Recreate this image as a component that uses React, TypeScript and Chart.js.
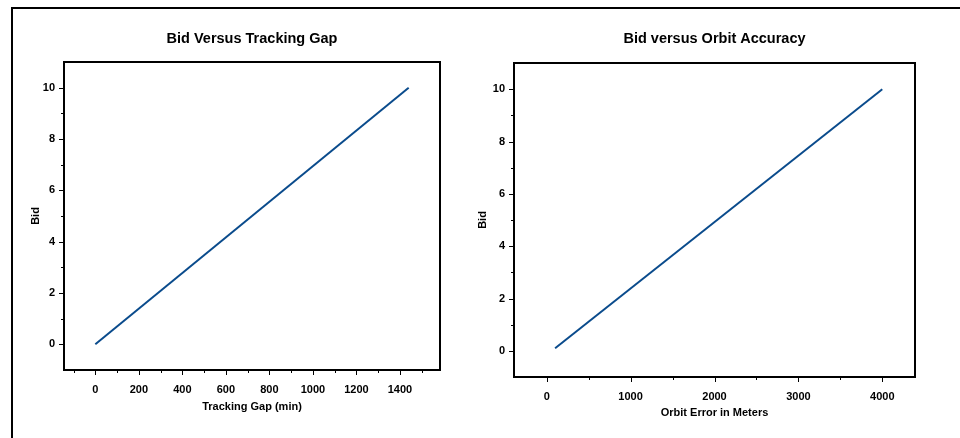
import React, { useEffect, useRef } from "react";
import { Chart, registerables } from "chart.js";

Chart.register(...registerables);

// ---- data ----
const gapMinutes = [0, 1440];
const gapBid = [0, 10];
const orbitMeters = [100, 4000];
const orbitBid = [0.1, 10];

const bidTicks = [0, 2, 4, 6, 8, 10];
const bidMinorTicks = [1, 3, 5, 7, 9];
const gapTicks = [0, 200, 400, 600, 800, 1000, 1200, 1400];
const gapMinorTicks = [-100, 100, 300, 500, 700, 900, 1100, 1300, 1500];
const orbitTicks = [0, 1000, 2000, 3000, 4000];
const orbitMinorTicks = [500, 1500, 2500, 3500];

const FONT = "'Liberation Sans', Arial, Helvetica, sans-serif";
const LINE_COLOR = "#0a4b8c";

const frameTicksPlugin = {
  id: "frameTicks",
  afterDraw(chart: any, _args: any, opts: any) {
    const { ctx, chartArea } = chart;
    const { left, top, right, bottom } = chartArea;
    const xs = chart.scales.x;
    const ys = chart.scales.y;
    ctx.save();
    ctx.strokeStyle = "#000";
    ctx.lineWidth = 1;
    ctx.beginPath();
    const xTick = (v: number, len: number) => {
      const px = Math.round(xs.getPixelForValue(v)) + 0.5;
      ctx.moveTo(px, bottom);
      ctx.lineTo(px, bottom + len);
    };
    const yTick = (v: number, len: number) => {
      const py = Math.round(ys.getPixelForValue(v)) + 0.5;
      ctx.moveTo(left, py);
      ctx.lineTo(left - len, py);
    };
    (opts.xMajor || []).forEach((v: number) => xTick(v, 5));
    (opts.xMinor || []).forEach((v: number) => xTick(v, 3));
    (opts.yMajor || []).forEach((v: number) => yTick(v, 5));
    (opts.yMinor || []).forEach((v: number) => yTick(v, 3));
    ctx.stroke();
    ctx.lineWidth = 2;
    ctx.strokeRect(left, top, right - left, bottom - top);
    ctx.restore();
  },
};

type Cfg = {
  title: string;
  xTitle: string;
  xs: number[];
  ys: number[];
  xMin: number;
  xMax: number;
  xMajor: number[];
  xMinor: number[];
  padL: number;
  padR: number;
  titleTop: number;
  titleBottom: number;
  xAxisHeight: number;
  xTitleBottom: number;
  yTitleTop: number;
};

function buildConfig(c: Cfg): any {
  return {
    type: "line",
    data: {
      datasets: [
        {
          data: c.xs.map((x, i) => ({ x, y: c.ys[i] })),
          borderColor: LINE_COLOR,
          borderWidth: 2,
          pointRadius: 0,
          fill: false,
          tension: 0,
        },
      ],
    },
    options: {
      animation: false,
      responsive: false,
      maintainAspectRatio: false,
      layout: { padding: { left: c.padL, right: c.padR, top: 0, bottom: 0 } },
      plugins: {
        legend: { display: false },
        tooltip: { enabled: false },
        title: {
          display: true,
          text: c.title,
          fullSize: false,
          color: "#000",
          font: { family: FONT, size: 14.5, weight: "bold" },
          padding: { top: c.titleTop, bottom: c.titleBottom },
        },
        frameTicks: {
          xMajor: c.xMajor,
          xMinor: c.xMinor,
          yMajor: bidTicks,
          yMinor: bidMinorTicks,
        },
      },
      scales: {
        x: {
          type: "linear",
          min: c.xMin,
          max: c.xMax,
          grid: { display: false, drawTicks: false },
          border: { display: false },
          afterBuildTicks: (s: any) => {
            s.ticks = c.xMajor.map((v) => ({ value: v }));
          },
          afterFit: (s: any) => {
            s.height = c.xAxisHeight;
          },
          ticks: {
            color: "#000",
            padding: 13,
            maxRotation: 0,
            autoSkip: false,
            font: { family: FONT, size: 11, weight: "bold" },
            callback: (v: any) => String(v),
          },
          title: {
            display: true,
            text: c.xTitle,
            color: "#000",
            font: { family: FONT, size: 11, weight: "bold" },
            padding: { top: 0, bottom: c.xTitleBottom },
          },
        },
        y: {
          type: "linear",
          min: -1,
          max: 11,
          grid: { display: false, drawTicks: false },
          border: { display: false },
          afterBuildTicks: (s: any) => {
            s.ticks = bidTicks.map((v) => ({ value: v }));
          },
          afterFit: (s: any) => {
            s.width = 44;
          },
          ticks: {
            color: "#000",
            padding: 9,
            autoSkip: false,
            font: { family: FONT, size: 11, weight: "bold" },
            callback: (v: any) => String(v),
          },
          title: {
            display: true,
            text: "Bid",
            color: "#000",
            font: { family: FONT, size: 11, weight: "bold" },
            padding: { top: c.yTitleTop, bottom: 0 },
          },
        },
      },
    },
    plugins: [frameTicksPlugin],
  };
}

function ChartCanvas(props: { cfg: Cfg; left: number; width: number }) {
  const ref = useRef<HTMLCanvasElement | null>(null);
  useEffect(() => {
    if (!ref.current) return;
    const chart = new Chart(ref.current, buildConfig(props.cfg));
    return () => chart.destroy();
  }, []);
  return (
    <canvas
      ref={ref}
      width={props.width}
      height={438}
      style={{
        position: "absolute",
        left: props.left,
        top: 0,
        width: props.width,
        height: 438,
      }}
    />
  );
}

const leftCfg: Cfg = {
  title: "Bid Versus Tracking Gap",
  xTitle: "Tracking Gap (min)",
  xs: gapMinutes,
  ys: gapBid,
  xMin: -144,
  xMax: 1584,
  xMajor: gapTicks,
  xMinor: gapMinorTicks,
  padL: 20,
  padR: 40,
  titleTop: 30.3,
  titleBottom: 14.3,
  xAxisHeight: 68,
  xTitleBottom: 24.4,
  yTitleTop: 9.4,
};

const rightCfg: Cfg = {
  title: "Bid versus Orbit Accuracy",
  xTitle: "Orbit Error in Meters",
  xs: orbitMeters,
  ys: orbitBid,
  xMin: -390,
  xMax: 4390,
  xMajor: orbitTicks,
  xMinor: orbitMinorTicks,
  padL: 10,
  padR: 45,
  titleTop: 30.3,
  titleBottom: 15.3,
  xAxisHeight: 61,
  xTitleBottom: 18.4,
  yTitleTop: 6.4,
};

export default function App() {
  return (
    <div
      style={{
        position: "absolute",
        left: 0,
        top: 0,
        width: 960,
        height: 438,
        overflow: "hidden",
        background: "#fff",
      }}
    >
      <div
        style={{
          position: "absolute",
          left: 11,
          top: 7,
          width: 960,
          height: 440,
          borderTop: "2px solid #000",
          borderLeft: "2px solid #000",
        }}
      />
      <ChartCanvas cfg={leftCfg} left={0} width={480} />
      <ChartCanvas cfg={rightCfg} left={460} width={500} />
    </div>
  );
}
